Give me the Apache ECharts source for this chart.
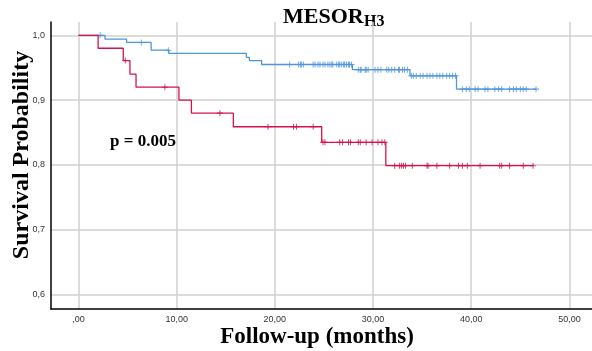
<!DOCTYPE html>
<html>
<head>
<meta charset="utf-8">
<script src="https://cdn.jsdelivr.net/npm/echarts@6/dist/echarts.min.js"></script>
<style>html,body{margin:0;padding:0;background:#fff;}#c{width:592px;height:351px;}</style>
</head>
<body>
<div id="c"></div>
<script>
// ---- data ----
const xTickValues = [0, 10, 20, 30, 40, 50];
const xTickLabels = [',00', '10,00', '20,00', '30,00', '40,00', '50,00'];
const yTickValues = [0.6, 0.7, 0.8, 0.9, 1.0];
const yTickLabels = ['0,6', '0,7', '0,8', '0,9', '1,0'];

const redTimes = [0, 2.0, 4.56, 5.24, 5.86, 10.23, 11.5, 15.77, 24.77, 31.3, 46.3];
const redSurv  = [1.0, 0.98, 0.961, 0.94, 0.92, 0.90, 0.88, 0.859, 0.835, 0.799, 0.799];
const redCensor = [4.77, 8.8, 14.4, 19.3, 21.9, 22.2, 23.9, 24.9, 25.1, 26.6, 26.9, 27.5, 27.7,
  28.5, 28.7, 29.3, 29.9, 30.5, 30.9, 31.2, 32.2, 32.7, 32.9, 33.1, 33.3, 34.0, 35.5, 35.6,
  36.5, 37.8, 38.7, 39.1, 39.6, 40.9, 42.9, 43.1, 43.9, 45.3, 46.3];

const blueTimes = [0, 2.7, 4.9, 7.4, 9.2, 17.1, 17.4, 18.65, 27.9, 33.76, 38.5, 46.6];
const blueSurv  = [1.0, 0.994, 0.989, 0.977, 0.972, 0.966, 0.961, 0.955, 0.947, 0.9375, 0.917, 0.917];
const blueCensor = [2.2, 6.4, 9.15, 21.5, 22.4, 22.6, 22.7, 22.9, 23.9, 24.1, 24.4, 24.6, 24.9,
  25.1, 25.4, 25.6, 25.8, 25.9, 26.3, 26.5, 26.6, 26.8, 27.0, 27.1, 27.3, 27.5, 27.6, 27.8,
  28.5, 28.7, 28.8, 29.2, 29.3, 29.5, 30.2, 30.5, 30.8, 31.4, 31.6, 31.9, 32.2, 32.6, 32.7,
  33.0, 33.2, 33.5, 33.9, 34.1, 34.4, 34.8, 35.1, 35.5, 35.8, 36.1, 36.5, 36.8, 37.1, 37.5,
  37.8, 38.1, 38.4, 39.1, 39.5, 39.8, 40.4, 40.7, 41.4, 41.7, 42.4, 42.8, 43.1, 43.9, 44.3,
  44.6, 45.0, 45.3, 45.6, 46.6];

// ---- helpers ----
function stepPoints(times, surv) { return times.map((t, i) => [t, surv[i]]); }
function levelAt(times, surv, t) {
  let v = surv[0];
  for (let i = 0; i < times.length; i++) { if (times[i] <= t) v = surv[i]; }
  return v;
}
function censorPoints(times, surv, cens) { return cens.map(t => [t, levelAt(times, surv, t)]); }

const RED = '#d3134b';
const BLUE = '#4f95dd';
const PLUS = 'path://M-0.17,-1L0.17,-1L0.17,1L-0.17,1Z M-1,-0.17L1,-0.17L1,0.17L-1,0.17Z';
const SERIF = '"Liberation Serif", "Times New Roman", serif';
const SANS = '"Liberation Sans", Arial, sans-serif';

const chart = echarts.init(document.getElementById('c'), null, {renderer: 'canvas'});
chart.setOption({
  animation: false,
  backgroundColor: '#ffffff',
  grid: {left: 51, right: 0, top: 22, bottom: 42, containLabel: false, outerBoundsMode: 'none'},
  xAxis: {
    type: 'value', min: -2.8, max: 52.3,
    axisLine: {show: true, onZero: false, lineStyle: {color: '#000', width: 1.5}},
    axisTick: {show: false, customValues: xTickValues},
    axisLabel: {customValues: xTickValues, fontSize: 9, color: '#333', fontFamily: SANS, margin: 6,
      formatter: v => xTickLabels[xTickValues.indexOf(Math.round(v))] || ''},
    splitLine: {show: true, lineStyle: {color: '#d0d0d0', width: 1.5}}
  },
  yAxis: {
    type: 'value', min: 0.578, max: 1.0205,
    axisLine: {show: true, onZero: false, lineStyle: {color: '#000', width: 1.5}},
    axisTick: {show: false, customValues: yTickValues},
    axisLabel: {customValues: yTickValues, fontSize: 9, color: '#333', fontFamily: SANS, margin: 6,
      formatter: v => { const i = yTickValues.findIndex(y => Math.abs(y - v) < 1e-6); return i >= 0 ? yTickLabels[i] : ''; }},
    splitLine: {show: true, lineStyle: {color: '#d0d0d0', width: 1.5}}
  },
  series: [
    {type: 'line', step: 'end', data: stepPoints(blueTimes, blueSurv), showSymbol: false, symbol: 'none',
      lineStyle: {color: BLUE, width: 1.3}, z: 3},
    {type: 'scatter', data: censorPoints(blueTimes, blueSurv, blueCensor), symbol: PLUS, symbolSize: [6, 6],
      itemStyle: {color: BLUE}, z: 4},
    {type: 'line', step: 'end', data: stepPoints(redTimes, redSurv), showSymbol: false, symbol: 'none',
      lineStyle: {color: RED, width: 1.3}, z: 5},
    {type: 'scatter', data: censorPoints(redTimes, redSurv, redCensor), symbol: PLUS, symbolSize: [6, 6],
      itemStyle: {color: RED}, z: 6}
  ],
  graphic: [
    {type: 'text', x: 283, y: 17, style: {text: 'MESOR', font: 'bold 22px ' + SERIF, fill: '#000', verticalAlign: 'middle', align: 'left'}},
    {type: 'text', x: 364, y: 22, style: {text: 'H3', font: 'bold 16px ' + SERIF, fill: '#000', verticalAlign: 'middle', align: 'left'}},
    {type: 'text', x: 22, y: 155, rotation: Math.PI / 2, style: {text: 'Survival Probability', font: 'bold 24px ' + SERIF, fill: '#000', verticalAlign: 'middle', align: 'center'}},
    {type: 'text', x: 317, y: 337, style: {text: 'Follow-up (months)', font: 'bold 23px ' + SERIF, fill: '#000', verticalAlign: 'middle', align: 'center'}},
    {type: 'text', x: 110, y: 142, style: {text: 'p = 0.005', font: 'bold 17px ' + SERIF, fill: '#000', verticalAlign: 'middle', align: 'left'}}
  ]
});
</script>
</body>
</html>
